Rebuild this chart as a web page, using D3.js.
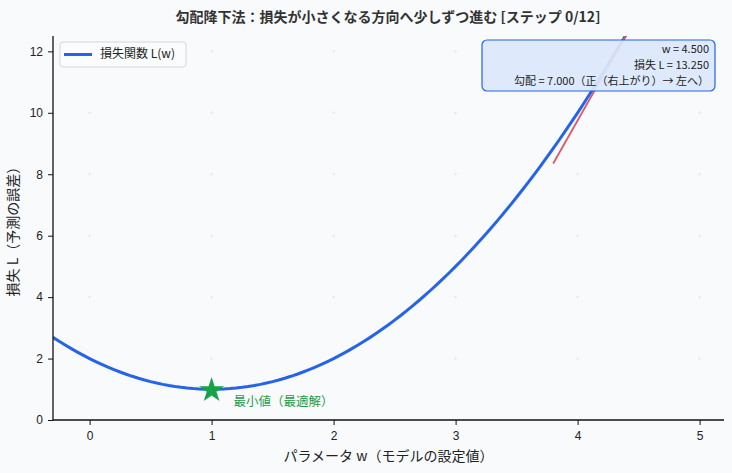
<!DOCTYPE html>
<html>
<head>
<meta charset="utf-8">
<script src="https://d3js.org/d3.v7.min.js"></script>
<style>
  body { margin: 0; background: #f8fafc; }
  svg { font-family: "Noto Sans CJK JP", "Noto Sans", sans-serif; }
  .tick text { font-size: 12px; fill: #222; }
</style>
</head>
<body>
<svg id="chart" width="732" height="473"></svg>
<script>
// loss curve L(w) = (w - 1)^2 + 1, sampled
const curveW = d3.range(-0.3, 5.2001, 0.05)
const curveL = curveW.map(w => (w - 1) * (w - 1) + 1)
const xTicks = [0, 1, 2, 3, 4, 5]
const yTicks = [0, 2, 4, 6, 8, 10, 12]
const currentW = [4.5]
const currentL = [13.25]
const currentGrad = [7.0]
const tangentSpan = [-0.7, 0.7]
const minPoint = [1, 1]

const W = 732, H = 473
const m = {left: 53, right: 8, top: 36, bottom: 53}

var svg = d3.select("#chart")
var x = d3.scaleLinear().domain([-0.3, 5.2]).range([m.left, W - m.right])
var y = d3.scaleLinear().domain([0, 12.5]).range([H - m.bottom, m.top])

svg.append("rect").attr("width", W).attr("height", H).attr("fill", "#f8fafc")

svg.append("defs").append("clipPath").attr("id", "plotclip")
  .append("rect")
  .attr("x", m.left).attr("y", m.top)
  .attr("width", W - m.right - m.left).attr("height", H - m.bottom - m.top)

// faint grid marks at intersections
var grid = svg.append("g")
xTicks.forEach(function(tx){
  yTicks.slice(1).forEach(function(ty){
    grid.append("rect")
      .attr("x", x(tx) - 1).attr("y", y(ty) - 1)
      .attr("width", 2).attr("height", 2)
      .attr("fill", "#e3e6eb")
  })
})

var plot = svg.append("g").attr("clip-path", "url(#plotclip)")

var line = d3.line().x((d, i) => x(curveW[i])).y(d => y(d))
plot.append("path").datum(curveL)
  .attr("d", line)
  .attr("fill", "none")
  .attr("stroke", "#2563eb")
  .attr("stroke-width", 3)

// tangent at current w
var t0 = currentW[0] + tangentSpan[0], t1 = currentW[0] + tangentSpan[1]
plot.append("line")
  .attr("x1", x(t0)).attr("y1", y(currentL[0] + currentGrad[0] * tangentSpan[0]))
  .attr("x2", x(t1)).attr("y2", y(currentL[0] + currentGrad[0] * tangentSpan[1]))
  .attr("stroke", "#e05565")
  .attr("stroke-width", 1.8)

plot.append("circle")
  .attr("cx", x(currentW[0])).attr("cy", y(currentL[0]))
  .attr("r", 6).attr("fill", "#e05565")

// minimum marker
svg.append("path")
  .attr("d", d3.symbol().type(d3.symbolStar).size(200)())
  .attr("transform", "translate(" + x(minPoint[0]) + "," + (y(minPoint[1]) + 1) + ")")
  .attr("fill", "#16a34a")
svg.append("text")
  .attr("x", x(minPoint[0] + 0.18)).attr("y", y(minPoint[1] - 0.42))
  .attr("dominant-baseline", "middle")
  .attr("font-size", 12.5).attr("fill", "#1f9a4a")
  .text("最小値（最適解）")

// axes
var xAxis = svg.append("g")
  .attr("transform", "translate(0," + (H - m.bottom) + ")")
  .call(d3.axisBottom(x).tickValues(xTicks).tickFormat(d3.format("d")).tickSize(5).tickPadding(6))
var yAxis = svg.append("g")
  .attr("transform", "translate(" + m.left + ",0)")
  .call(d3.axisLeft(y).tickValues(yTicks).tickFormat(d3.format("d")).tickSize(5).tickPadding(5))
xAxis.select(".domain").attr("stroke", "#111").attr("stroke-width", 1.3).attr("d", "M" + m.left + ",0H" + (W - m.right))
yAxis.select(".domain").attr("stroke", "#111").attr("stroke-width", 1.3).attr("d", "M0," + (H - m.bottom) + "V" + m.top)
svg.selectAll(".tick line").attr("stroke", "#111")

svg.append("text")
  .attr("x", (m.left + W - m.right) / 2).attr("y", H - 12)
  .attr("text-anchor", "middle").attr("font-size", 14).attr("fill", "#222")
  .text("パラメータ w（モデルの設定値）")
svg.append("text")
  .attr("transform", "translate(18," + ((m.top + H - m.bottom) / 2) + ") rotate(-90)")
  .attr("text-anchor", "middle").attr("font-size", 14).attr("fill", "#222")
  .text("損失 L（予測の誤差）")

svg.append("text")
  .attr("x", W / 2 + 22).attr("y", 22)
  .attr("text-anchor", "middle").attr("font-size", 14).attr("font-weight", "bold").attr("fill", "#333")
  .text("勾配降下法：損失が小さくなる方向へ少しずつ進む [ステップ 0/12]")

// legend
var lg = svg.append("g").attr("transform", "translate(60,42)")
lg.append("rect").attr("width", 126).attr("height", 25).attr("rx", 3)
  .attr("fill", "#fbfcfd").attr("stroke", "#d4d7dc")
lg.append("line").attr("x1", 4).attr("x2", 32).attr("y1", 12.5).attr("y2", 12.5)
  .attr("stroke", "#2563eb").attr("stroke-width", 3)
lg.append("text").attr("x", 40).attr("y", 13).attr("dominant-baseline", "middle")
  .attr("font-size", 12).attr("fill", "#222").text("損失関数 L(w)")

// info box
var ib = svg.append("g").attr("transform", "translate(482,40)")
ib.append("rect").attr("width", 233).attr("height", 51).attr("rx", 5)
  .attr("fill", "#dbe8fb").attr("fill-opacity", 0.92).attr("stroke", "#2563eb").attr("stroke-width", 1.2)
var info = ["w = " + currentW[0].toFixed(3),
  "損失 L = " + currentL[0].toFixed(3),
  "勾配 = " + currentGrad[0].toFixed(3) + "（正（右上がり）→ 左へ）"]
info.forEach(function(t, i){
  ib.append("text").attr("x", 227).attr("y", 10 + i * 16)
    .attr("text-anchor", "end").attr("dominant-baseline", "middle")
    .attr("font-size", 11).attr("fill", "#222").text(t)
})
</script>
</body>
</html>
